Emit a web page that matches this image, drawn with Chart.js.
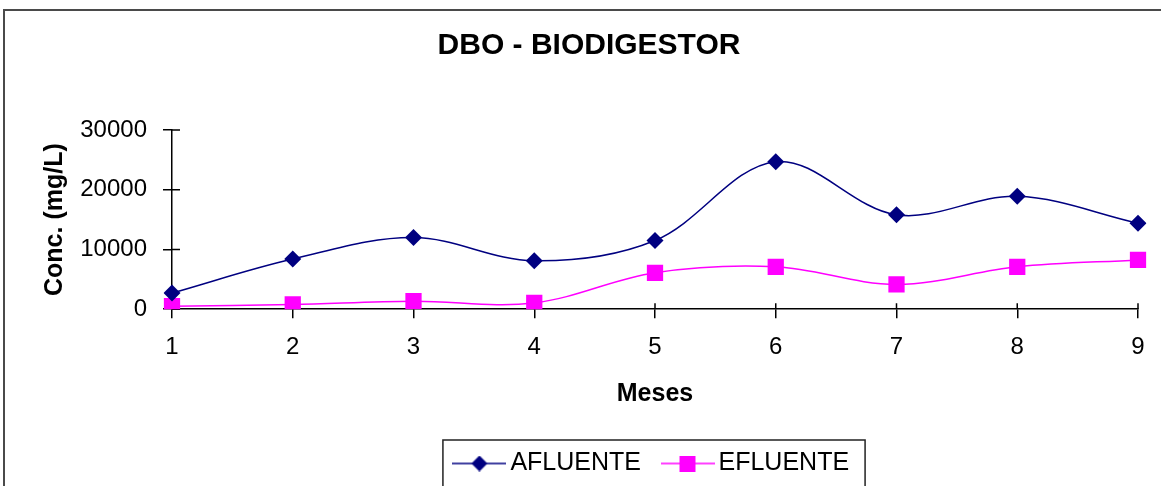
<!DOCTYPE html>
<html lang="es">
<head>
    <meta charset="UTF-8">
    <title>DBO - BIODIGESTOR</title>
    <style>
        body {
            margin: 0;
            padding: 0;
            background-color: #fff;
            overflow: hidden;
        }
        .frame {
            position: absolute;
            left: 3px;
            top: 9px;
            width: 1180px;
            height: 500px;
            border: 2px solid #4a4a4a;
        }
        .chart-box {
            position: absolute;
            left: 0;
            top: 0;
            width: 1161px;
            height: 486px;
        }
    </style>
</head>
<body>
    <div class="frame"></div>
    <div class="chart-box">
        <canvas id="dboChart"></canvas>
    </div>

    <script src="https://cdn.jsdelivr.net/npm/chart.js"></script>
    <script>
        const meses = ['1', '2', '3', '4', '5', '6', '7', '8', '9'];
        const afluente = [2700, 8400, 12000, 8100, 11500, 24700, 15800, 18900, 14400];
        const efluente = [500, 800, 1350, 1050, 6100, 7100, 4150, 7100, 8250];
        const yMax = 30000;
        const yStep = 10000;

        const fontFamily = "Arial, 'Liberation Sans', sans-serif";
        const navy = '#000080';
        const magenta = '#ff00ff';

        // little line + marker pictures for the legend, excel style
        function legendMarker(color, shape) {
            const c = document.createElement('canvas');
            c.width = 54;
            c.height = 16;
            const ctx = c.getContext('2d');
            ctx.strokeStyle = color;
            ctx.lineWidth = 1.5;
            ctx.beginPath();
            ctx.moveTo(0, 8);
            ctx.lineTo(54, 8);
            ctx.stroke();
            ctx.fillStyle = color;
            if (shape === 'diamond') {
                ctx.beginPath();
                ctx.moveTo(27, 0);
                ctx.lineTo(35, 8);
                ctx.lineTo(27, 16);
                ctx.lineTo(19, 8);
                ctx.closePath();
                ctx.fill();
            } else {
                ctx.fillRect(19, 0, 16, 16);
            }
            return c;
        }
        const markers = [legendMarker(navy, 'diamond'), legendMarker(magenta, 'square')];

        // ticks in excel cross the axis line, chart.js only draws the outer half
        const innerTicks = {
            id: 'innerTicks',
            beforeDatasetsDraw(chart) {
                const ctx = chart.ctx;
                const area = chart.chartArea;
                const xs = chart.scales.x;
                const ys = chart.scales.y;
                ctx.save();
                ctx.strokeStyle = '#000';
                ctx.lineWidth = 1.5;
                ctx.beginPath();
                xs.ticks.forEach((t, i) => {
                    const x = xs.getPixelForTick(i);
                    ctx.moveTo(x, area.bottom - 6);
                    ctx.lineTo(x, area.bottom);
                });
                ys.ticks.forEach((t, i) => {
                    const y = ys.getPixelForTick(i);
                    ctx.moveTo(area.left, y);
                    ctx.lineTo(area.left + 8, y);
                });
                ctx.stroke();
                ctx.restore();
            }
        };

        // box round the legend
        const legendFrame = {
            id: 'legendFrame',
            afterDraw(chart) {
                const hb = chart.legend.legendHitBoxes;
                if (!hb || !hb.length) return;
                const last = hb[hb.length - 1];
                const left = hb[0].left - 18;
                const right = last.left + last.width + 16;
                const top = chart.legend.top + 17;
                const ctx = chart.ctx;
                ctx.save();
                ctx.strokeStyle = '#222';
                ctx.lineWidth = 1.5;
                ctx.strokeRect(left, top, right - left, 60);
                ctx.restore();
            }
        };

        const ctx = document.getElementById('dboChart').getContext('2d');
        new Chart(ctx, {
            type: 'line',
            data: {
                labels: meses,
                datasets: [{
                    label: 'AFLUENTE',
                    data: afluente,
                    borderColor: navy,
                    backgroundColor: navy,
                    borderWidth: 1.5,
                    pointStyle: 'rectRot',
                    pointRadius: 8.5,
                    pointBorderWidth: 0,
                    tension: 0.35,
                    fill: false
                }, {
                    label: 'EFLUENTE',
                    data: efluente,
                    borderColor: magenta,
                    backgroundColor: magenta,
                    borderWidth: 1.5,
                    pointStyle: 'rect',
                    pointRadius: 11.5,
                    pointBorderWidth: 0,
                    tension: 0.35,
                    fill: false
                }]
            },
            options: {
                responsive: true,
                maintainAspectRatio: false,
                animation: false,
                layout: {
                    padding: { left: 40, right: 23, top: 0, bottom: 0 }
                },
                plugins: {
                    title: {
                        display: true,
                        text: 'DBO - BIODIGESTOR',
                        color: '#000',
                        font: { family: fontFamily, size: 30, weight: 'bold', lineHeight: 1.2 },
                        padding: { top: 28, bottom: 66 }
                    },
                    legend: {
                        position: 'bottom',
                        fullSize: false,
                        labels: {
                            color: '#000',
                            font: { family: fontFamily, size: 25 },
                            usePointStyle: true,
                            pointStyleWidth: 37,
                            padding: 28,
                            generateLabels(chart) {
                                const items = Chart.defaults.plugins.legend.labels.generateLabels(chart);
                                items.forEach((it, i) => { it.pointStyle = markers[i]; });
                                return items;
                            }
                        }
                    },
                    tooltip: { enabled: false }
                },
                scales: {
                    x: {
                        offset: false,
                        border: { color: '#000', width: 1.5 },
                        grid: { drawOnChartArea: false, tickLength: 9, color: '#000', lineWidth: 1.5 },
                        ticks: {
                            color: '#000',
                            padding: 15,
                            maxRotation: 0,
                            font: { family: fontFamily, size: 24 }
                        },
                        title: {
                            display: true,
                            text: 'Meses',
                            color: '#000',
                            font: { family: fontFamily, size: 25, weight: 'bold', lineHeight: 1.2 },
                            padding: { top: 2, bottom: 14 }
                        }
                    },
                    y: {
                        min: 0,
                        max: yMax,
                        afterFit(scale) { scale.width = 132; },
                        border: { color: '#000', width: 1.5 },
                        grid: { drawOnChartArea: false, tickLength: 9, color: '#000', lineWidth: 1.5 },
                        ticks: {
                            stepSize: yStep,
                            color: '#000',
                            padding: 16,
                            font: { family: fontFamily, size: 24 },
                            callback: (v) => String(v)
                        },
                        title: {
                            display: true,
                            text: 'Conc. (mg/L)',
                            color: '#000',
                            font: { family: fontFamily, size: 25, weight: 'bold', lineHeight: 1.2 },
                            padding: { top: 0, bottom: 0 }
                        }
                    }
                }
            },
            plugins: [innerTicks, legendFrame]
        });
    </script>
</body>
</html>
